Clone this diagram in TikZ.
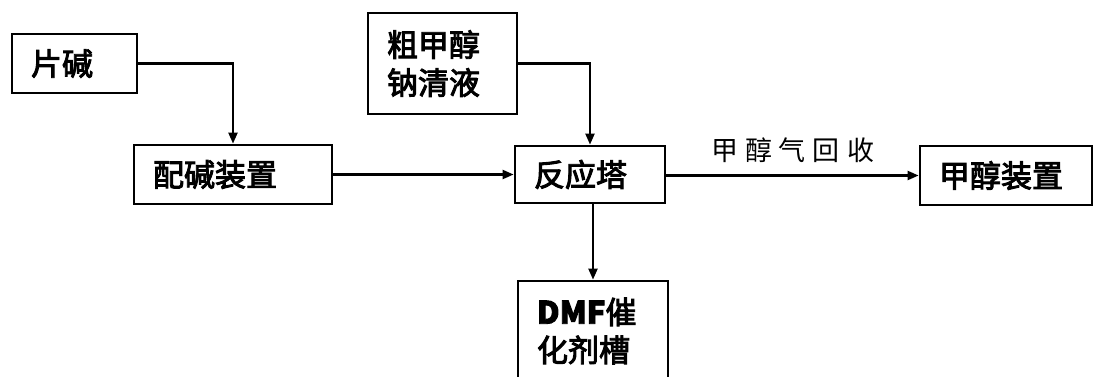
\documentclass[tikz,border=0pt]{standalone}
\usepackage{fontspec}
\setmainfont{Noto Sans CJK SC}
\newfontfamily\boxfont{Noto Sans CJK SC}[FakeBold=3]
\usetikzlibrary{arrows.meta}
\begin{document}
\begin{tikzpicture}[x=1pt,y=-1pt,
  box/.style={draw, line width=2.8pt, font=\boxfont\fontsize{31}{38}\selectfont,
    align=left, inner xsep=19pt, inner ysep=0pt, anchor=center},
  conn/.style={line width=2.2pt, -{Triangle[length=11pt,width=9pt]}},
  lbl/.style={font=\fontsize{27}{30}\selectfont, inner sep=0pt}]
\useasboundingbox (0,0) rectangle (1097,376);
\clip (0,0) rectangle (1097,376);
\node[box, text width=87pt, minimum height=59pt] (pj) at (74.5,63.5) {片碱};
\node[box, text width=160pt, minimum height=59pt] (peijian) at (233,174.5) {配碱装置};
\node[box, text width=111pt, minimum height=101pt] (cu) at (442.5,63.5) {粗甲醇\\钠清液};
\node[box, text width=112pt, minimum height=57pt] (fyt) at (590,174.5) {反应塔};
\node[box, text width=134pt, minimum height=59pt] (jc) at (1006,175.5) {甲醇装置};
\node[box, text width=112pt, minimum height=100pt] (dmf) at (593,331) {{\bfseries DMF}催\\化剂槽};
\draw[conn] (pj.east) -| (peijian.north);
\draw[conn] (cu.east) -| (fyt.north);
\draw[conn] (peijian.east) -- (fyt.west);
\draw[conn] (fyt.east |- jc.west) -- (jc.west)
  node[lbl, pos=0.5, anchor=south, yshift=12pt] (rec) {甲\kern7pt 醇\kern7pt 气\kern7pt 回\kern7pt 收};
\draw[conn] (dmf.north |- fyt.south) -- (dmf.north);
\end{tikzpicture}
\end{document}
